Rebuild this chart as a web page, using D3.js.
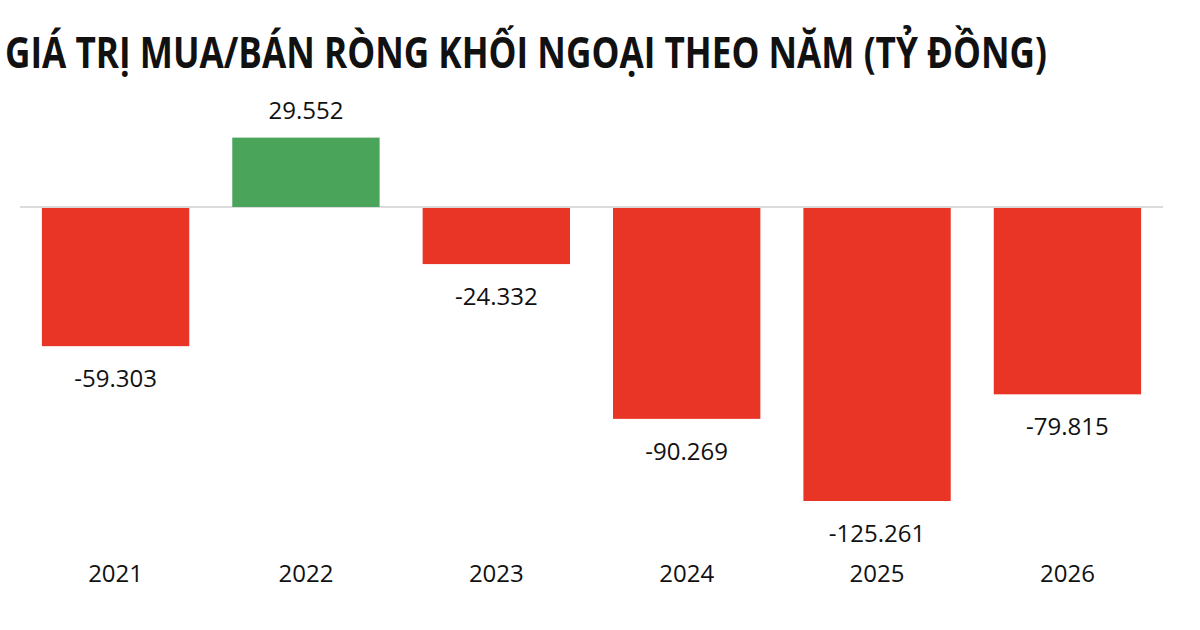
<!DOCTYPE html>
<html lang="vi">
<head>
<meta charset="UTF-8">
<title>Giá trị mua/bán ròng khối ngoại theo năm</title>
<script src="https://d3js.org/d3.v7.min.js"></script>
<style>
  body { margin: 0; background: #fff; }
  svg text { font-family: "Open Sans", sans-serif; }
</style>
</head>
<body>
<svg id="chart" width="1200" height="630"></svg>
<script>
// data (ty dong)
const years = ["2021", "2022", "2023", "2024", "2025", "2026"];
const netValues = [-59.303, 29.552, -24.332, -90.269, -125.261, -79.815];
const valueLabels = ["-59.303", "29.552", "-24.332", "-90.269", "-125.261", "-79.815"];
const titleText = "GIÁ TRỊ MUA/BÁN RÒNG KHỐI NGOẠI THEO NĂM (TỶ ĐỒNG)";

const svg = d3.select("#chart");

// title: condensed look -> smaller font stretched vertically
svg.append("g")
    .attr("transform", "translate(5, 68) scale(1, 1.13)")
    .append("text")
    .attr("x", 0)
    .attr("y", 0)
    .attr("font-size", 38)
    .attr("font-weight", 700)
    .attr("fill", "#111")
    .attr("textLength", 1042)
    .attr("lengthAdjust", "spacingAndGlyphs")
    .text(titleText);

// scales
const x = d3.scaleBand()
    .domain(years)
    .range([20, 1163])
    .paddingInner(0.226)
    .paddingOuter(0.115);

const y = d3.scaleLinear()
    .domain([-125.261, 29.552])
    .range([501, 137.6]);

// zero line
svg.append("line")
    .attr("x1", 20)
    .attr("x2", 1163)
    .attr("y1", y(0))
    .attr("y2", y(0))
    .attr("stroke", "#d0d0d0")
    .attr("stroke-width", 1.5);

// bars
svg.selectAll(".bar")
    .data(netValues)
    .enter()
    .append("rect")
    .attr("class", "bar")
    .attr("x", (d, i) => x(years[i]))
    .attr("y", d => d >= 0 ? y(d) : y(0) + 1)
    .attr("width", x.bandwidth())
    .attr("height", d => Math.abs(y(d) - y(0)) - (d >= 0 ? 0 : 1))
    .attr("fill", d => d >= 0 ? "#4aa55a" : "#e83526");

// value labels
svg.selectAll(".val")
    .data(netValues)
    .enter()
    .append("text")
    .attr("class", "val")
    .attr("x", (d, i) => x(years[i]) + x.bandwidth() / 2)
    .attr("y", d => d >= 0 ? y(d) - 19 : y(d) + 41)
    .attr("text-anchor", "middle")
    .attr("font-size", 24)
    .attr("fill", "#111")
    .text((d, i) => valueLabels[i]);

// year axis labels
const xAxis = svg.append("g")
    .attr("transform", "translate(0, 582)")
    .call(d3.axisBottom(x).tickSize(0).tickPadding(0));
xAxis.select(".domain").remove();
xAxis.selectAll("text")
    .attr("dy", 0)
    .attr("font-size", 24)
    .attr("font-family", "Open Sans, sans-serif")
    .attr("fill", "#111");
</script>
</body>
</html>
